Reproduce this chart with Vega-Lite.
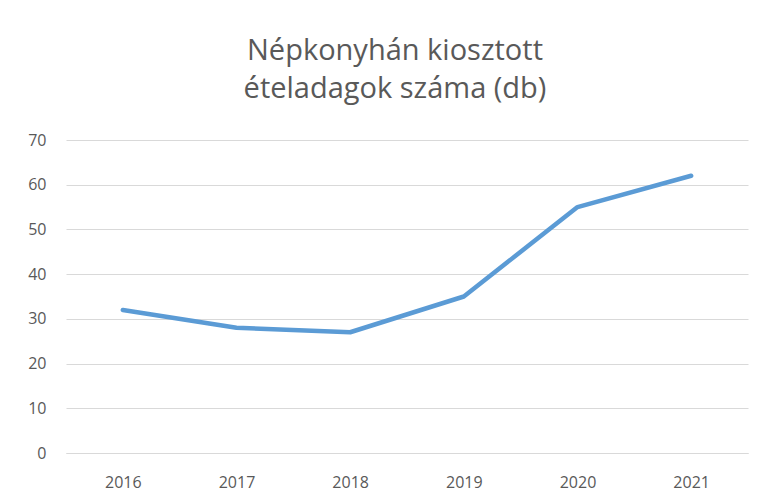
{
  "$schema": "https://vega.github.io/schema/vega-lite/v6.json",
  "width": 682,
  "height": 313,
  "autosize": {"type": "none"},
  "padding": {"left": 66, "top": 140, "right": 20, "bottom": 51},
  "background": "white",
  "title": {
    "text": ["Népkonyhán kiosztott", "ételadagok száma (db)"],
    "font": "Open Sans",
    "fontSize": 29,
    "fontWeight": "normal",
    "color": "#595959",
    "lineHeight": 38,
    "anchor": "middle",
    "dx": -12,
    "offset": 28
  },
  "data": {
    "values": [
      {"year": "2016", "value": 32},
      {"year": "2017", "value": 28},
      {"year": "2018", "value": 27},
      {"year": "2019", "value": 35},
      {"year": "2020", "value": 55},
      {"year": "2021", "value": 62}
    ]
  },
  "mark": {"type": "line", "color": "#5B9BD5", "strokeWidth": 4.5, "strokeCap": "round", "strokeJoin": "round"},
  "encoding": {
    "x": {
      "field": "year",
      "type": "ordinal",
      "scale": {"type": "point", "padding": 0.5},
      "axis": {"title": null, "labelAngle": 0, "domain": true, "domainColor": "#d9d9d9", "ticks": false, "grid": false, "labelPadding": 21, "labelFontSize": 16, "labelColor": "#595959", "labelFont": "Open Sans"}
    },
    "y": {
      "field": "value",
      "type": "quantitative",
      "scale": {"domain": [0, 70]},
      "axis": {"title": null, "values": [0, 10, 20, 30, 40, 50, 60, 70], "domain": false, "ticks": false, "grid": true, "gridColor": "#d9d9d9", "gridWidth": 1, "labelPadding": 20, "labelFontSize": 16, "labelColor": "#595959", "labelFont": "Open Sans"}
    }
  },
  "config": {"view": {"stroke": null}}
}
